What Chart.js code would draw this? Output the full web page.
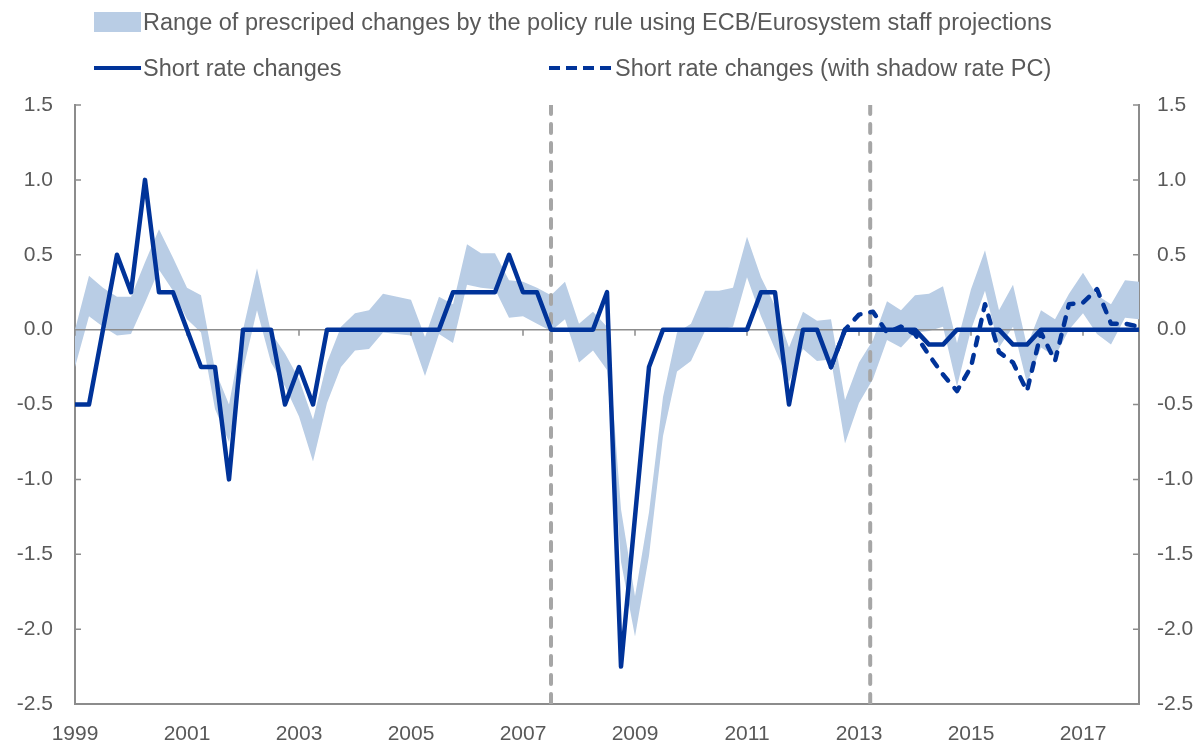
<!DOCTYPE html>
<html>
<head>
<meta charset="utf-8">
<title>Short rate changes vs policy rule</title>
<script src="https://cdn.jsdelivr.net/npm/chart.js@4.4.1/dist/chart.umd.min.js"></script>
<style>
    html, body { margin: 0; padding: 0; background: #ffffff; }
    #wrap {
        position: relative;
        width: 1203px;
        height: 745px;
        font-family: 'Liberation Sans', Arial, sans-serif;
        color: #595959;
    }
    #chart { position: absolute; left: 0; top: 0; }
    .lg-item {
        position: absolute;
        display: flex;
        align-items: center;
        font-size: 23.5px;
        white-space: nowrap;
    }
    .sw-band { width: 47px; height: 20px; background: #b9cde5; margin-right: 2px; }
    .sw-line { width: 47px; height: 4px; background: #003399; margin-right: 2px; }
    .lg-item svg { margin-right: 2px; }
</style>
</head>
<body>
<div id="wrap">
    <canvas id="chart" width="1203" height="745"></canvas>

    <div class="lg-item" style="left:94px; top:8px; height:28px;">
        <span class="sw-band"></span><span>Range of prescriped changes by the policy rule using ECB/Eurosystem staff projections</span>
    </div>
    <div class="lg-item" style="left:94px; top:54px; height:28px;">
        <span class="sw-line"></span><span>Short rate changes</span>
    </div>
    <div class="lg-item" style="left:549px; top:54px; height:28px;">
        <svg width="64" height="8"><line x1="0" y1="4" x2="64" y2="4" stroke="#003399" stroke-width="4" stroke-dasharray="11 6"/></svg><span>Short rate changes (with shadow rate PC)</span>
    </div>
</div>

<script>
// quarterly data, 1999Q1 .. 2018Q1 (index 0 = 1999Q1)
const firstYear = 1999;
const lastIndex = 76;
const yearTicks = [1999, 2001, 2003, 2005, 2007, 2009, 2011, 2013, 2015, 2017];

const shortRate = [
    -0.5, -0.5, 0, 0.5, 0.25, 1.0, 0.25, 0.25, 0, -0.25,
    -0.25, -1.0, 0, 0, 0, -0.5, -0.25, -0.5, 0, 0,
    0, 0, 0, 0, 0, 0, 0, 0.25, 0.25, 0.25,
    0.25, 0.5, 0.25, 0.25, 0, 0, 0, 0, 0.25, -2.25,
    -1.25, -0.25, 0, 0, 0, 0, 0, 0, 0, 0.25,
    0.25, -0.5, 0, 0, -0.25, 0, 0, 0, 0, 0,
    0, -0.1, -0.1, 0, 0, 0, 0, -0.1, -0.1, 0,
    0, 0, 0, 0, 0, 0, 0
];

// shadow rate variant starts at 2012Q3
const shadowStart = 54;
const shadowRate = [
    -0.25, 0.0, 0.1, 0.12, -0.02, 0.02, -0.03, -0.17, -0.3, -0.41,
    -0.25, 0.17, -0.15, -0.22, -0.41, -0.02, -0.21, 0.17, 0.18, 0.27,
    0.04, 0.04, 0.02
];

const bandUpper = [
    0.0, 0.36, 0.28, 0.22, 0.22, 0.45, 0.67, 0.48, 0.28, 0.23,
    -0.27, -0.5, 0.0, 0.41, -0.02, -0.16, -0.33, -0.6, -0.22, 0.02,
    0.11, 0.13, 0.24, 0.22, 0.2, -0.05, 0.22, 0.17, 0.57, 0.51,
    0.51, 0.33, 0.32, 0.28, 0.23, 0.32, 0.04, 0.12, 0.02, -1.2,
    -1.78, -1.22, -0.45, -0.02, 0.04, 0.26, 0.26, 0.28, 0.62, 0.35,
    0.16, -0.12, 0.12, 0.06, 0.07, -0.47, -0.22, -0.07, 0.19, 0.13,
    0.23, 0.24, 0.29, -0.09, 0.27, 0.53, 0.13, 0.3, -0.11, 0.13,
    0.07, 0.24, 0.38, 0.23, 0.17, 0.33, 0.32
];

const bandLower = [
    -0.25, 0.09, 0.02, -0.04, -0.03, 0.18, 0.40, 0.26, 0.07, -0.02,
    -0.53, -0.75, -0.27, 0.13, -0.22, -0.38, -0.58, -0.88, -0.49, -0.25,
    -0.14, -0.13, -0.02, -0.03, -0.04, -0.31, -0.03, -0.09, 0.30, 0.28,
    0.27, 0.08, 0.09, 0.04, -0.01, 0.07, -0.22, -0.14, -0.27, -1.55,
    -2.05, -1.51, -0.71, -0.28, -0.21, -0.01, 0.0, 0.02, 0.35, 0.09,
    -0.13, -0.35, -0.13, -0.21, -0.2, -0.76, -0.49, -0.33, -0.07, -0.12,
    -0.02, -0.01, 0.02, -0.38, 0.0, 0.26, -0.12, 0.02, -0.36, -0.12,
    -0.18, 0.0, 0.11, -0.03, -0.1, 0.08, 0.07
];

// marker dates (quarter index): 2007Q3 and early 2013
const markerQuarters = [34, 56.8];

const yMin = -2.5;
const yMax = 1.5;

const lineBlue = '#003399';
const bandBlue = '#b9cde5';
const axisGrey = '#8c8c8c';
const markerGrey = '#a6a6a6';
const labelGrey = '#595959';
const fontFamily = "'Liberation Sans', Arial, sans-serif";

const toPoints = (arr, offset = 0) => arr.map((v, i) => ({ x: i + offset, y: v }));

const markerSets = markerQuarters.map(q => ({
    label: 'marker',
    data: [{ x: q, y: yMax }, { x: q, y: yMin }],
    borderColor: markerGrey,
    borderWidth: 4,
    borderDash: [9, 10],
    borderCapStyle: 'round',
    pointRadius: 0,
    fill: false
}));

// zero line + small ticks, drawn over the band but under the lines
const axisDecor = {
    id: 'axisDecor',
    afterDatasetDraw(chart, args) {
        if (args.meta.label !== 'band upper') return;
        const { ctx, chartArea, scales } = chart;
        const y0 = scales.y.getPixelForValue(0);

        ctx.save();
        ctx.strokeStyle = axisGrey;
        ctx.lineWidth = 1.5;
        ctx.beginPath();
        ctx.moveTo(chartArea.left, y0);
        ctx.lineTo(chartArea.right, y0);

        yearTicks.forEach(yr => {
            const px = scales.x.getPixelForValue((yr - firstYear) * 4);
            ctx.moveTo(px, y0);
            ctx.lineTo(px, y0 + 6);
        });

        // inward ticks on both vertical axes
        for (let v = yMin; v <= yMax + 1e-9; v += 0.5) {
            const py = scales.y.getPixelForValue(v);
            ctx.moveTo(chartArea.left, py);
            ctx.lineTo(chartArea.left + 6, py);
            ctx.moveTo(chartArea.right, py);
            ctx.lineTo(chartArea.right - 6, py);
        }
        ctx.stroke();
        ctx.restore();
    }
};

const tickFont = { family: fontFamily, size: 21 };

const yScale = (position, width, pad) => ({
    type: 'linear',
    position: position,
    min: yMin,
    max: yMax,
    afterFit: s => { s.width = width; },
    grid: { drawOnChartArea: false, drawTicks: false },
    border: { display: true, color: axisGrey, width: 2 },
    ticks: {
        stepSize: 0.5,
        padding: pad,
        color: labelGrey,
        font: tickFont,
        callback: v => v.toFixed(1)
    }
});

new Chart(document.getElementById('chart'), {
    type: 'line',
    data: {
        datasets: [
            {
                label: 'Short rate changes',
                data: toPoints(shortRate),
                borderColor: lineBlue,
                borderWidth: 4.5,
                borderJoinStyle: 'round',
                borderCapStyle: 'round',
                pointRadius: 0,
                tension: 0,
                fill: false
            },
            {
                label: 'Short rate changes (with shadow rate PC)',
                data: toPoints(shadowRate, shadowStart),
                borderColor: lineBlue,
                borderWidth: 4.5,
                borderDash: [8, 10],
                borderCapStyle: 'round',
                borderJoinStyle: 'round',
                pointRadius: 0,
                tension: 0,
                fill: false
            },
            ...markerSets,
            {
                label: 'band upper',
                data: toPoints(bandUpper),
                borderWidth: 0,
                borderColor: 'rgba(0,0,0,0)',
                backgroundColor: bandBlue,
                pointRadius: 0,
                tension: 0,
                fill: '+1'
            },
            {
                label: 'band lower',
                data: toPoints(bandLower),
                borderWidth: 0,
                borderColor: 'rgba(0,0,0,0)',
                pointRadius: 0,
                tension: 0,
                fill: false
            }
        ]
    },
    options: {
        responsive: false,
        animation: false,
        devicePixelRatio: 1,
        layout: { padding: { top: 105, left: 0, right: 0, bottom: 0 } },
        plugins: {
            legend: { display: false },
            tooltip: { enabled: false }
        },
        scales: {
            x: {
                type: 'linear',
                min: 0,
                max: lastIndex,
                afterBuildTicks: s => { s.ticks = yearTicks.map(yr => ({ value: (yr - firstYear) * 4 })); },
                afterFit: s => { s.height = 41; },
                grid: { drawOnChartArea: false, drawTicks: false },
                border: { display: true, color: axisGrey, width: 2 },
                ticks: {
                    autoSkip: false,
                    maxRotation: 0,
                    padding: 18,
                    color: labelGrey,
                    font: tickFont,
                    callback: v => String(firstYear + v / 4)
                }
            },
            y: yScale('left', 75, 22),
            y2: yScale('right', 64, 18)
        }
    },
    plugins: [axisDecor]
});
</script>
</body>
</html>
